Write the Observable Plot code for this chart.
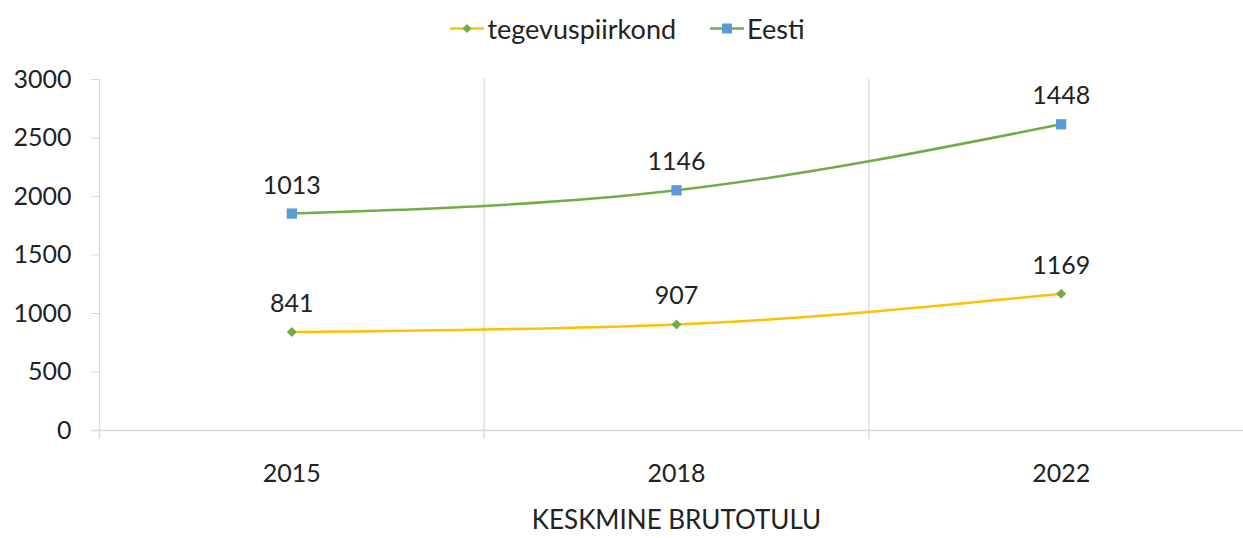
<!DOCTYPE html>
<html><head><meta charset="utf-8">
<script src="https://cdn.jsdelivr.net/npm/d3@7"></script>
<script src="https://cdn.jsdelivr.net/npm/@observablehq/plot@0.6"></script>
<style>
html,body{margin:0;padding:0;background:#fff;overflow:hidden;width:1243px;height:538px}
#legend{height:56px;display:flex;justify-content:center;align-items:center;font-family:"Lato","Open Sans",sans-serif;font-size:27px;color:#222;gap:34px;padding-left:12px;box-sizing:border-box}
.item{display:flex;align-items:center;gap:3px}
</style></head><body>
<div id="legend"></div>
<div id="chart"></div>
<script>
const years = ["2015", "2018", "2022"];
const seriesNames = ["tegevuspiirkond", "Eesti"];
const tegevuspiirkond = [841, 907, 1169];
const eesti = [1013, 1146, 1448];
const yTicks = [0, 500, 1000, 1500, 2000, 2500, 3000];
const gridBoundaries = [0.5, 1.5];

const lineColors = {"tegevuspiirkond": "#FFC000", "Eesti": "#70AD47"};
const markerColors = {"tegevuspiirkond": "#70AD47", "Eesti": "#5B9BD5"};

// stacked line chart: Eesti is drawn on top of tegevuspiirkond
const rows = [];
years.forEach((yr, i) => {
  rows.push({series: "tegevuspiirkond", i, year: yr, value: tegevuspiirkond[i], top: tegevuspiirkond[i]});
  rows.push({series: "Eesti", i, year: yr, value: eesti[i], top: tegevuspiirkond[i] + eesti[i]});
});
const rowsT = rows.filter(d => d.series === "tegevuspiirkond");
const rowsE = rows.filter(d => d.series === "Eesti");

// legend
const leg = document.getElementById("legend");
seriesNames.forEach(s => {
  const d = document.createElement("div");
  d.className = "item";
  const sym = s === "Eesti"
    ? `<rect x="12" y="4.5" width="10" height="10" fill="${markerColors[s]}"/>`
    : `<path d="M17,5 L21.5,9.5 L17,14 L12.5,9.5Z" fill="${markerColors[s]}"/>`;
  d.innerHTML = `<svg width="34" height="19"><line x1="0" x2="34" y1="9.5" y2="9.5" stroke="${lineColors[s]}" stroke-width="2.5"/>${sym}</svg><span>${s}</span>`;
  leg.appendChild(d);
});

const font = "Lato, 'Open Sans', sans-serif";
const chart = Plot.plot({
  width: 1253,
  height: 482,
  marginLeft: 99,
  marginRight: 0,
  marginTop: 23,
  marginBottom: 108,
  style: {fontFamily: font, background: "#fff", overflow: "visible", maxWidth: "none"},
  x: {type: "linear", domain: [-0.5, 2.5], axis: null},
  y: {domain: [0, 3000], axis: null},
  marks: [
    Plot.ruleX(gridBoundaries, {stroke: "#d9d9d9", strokeWidth: 1.3, insetBottom: -9}),
    Plot.ruleX([-0.5], {stroke: "#d9d9d9", strokeWidth: 1.3, insetBottom: -9}),
    Plot.ruleY([0], {stroke: "#d9d9d9", strokeWidth: 1.5, insetLeft: -8}),
    Plot.axisY({ticks: yTicks, tickSize: 8, stroke: "#d9d9d9", fill: "#222", fontSize: 25, tickPadding: 20, fontFamily: font, tickFormat: d => String(d), label: null}),
    Plot.axisX({ticks: [0, 1, 2], tickSize: 0, tickPadding: 34, tickFormat: i => years[i], fontSize: 25, fill: "#222", fontFamily: font, label: null, style: {letterSpacing: "1.5px"}}),
    Plot.text(["KESKMINE BRUTOTULU"], {frameAnchor: "bottom", dy: 98, fontSize: 26, fill: "#222", fontFamily: font}),
    Plot.line(rowsT, {x: "i", y: "top", stroke: lineColors["tegevuspiirkond"], strokeWidth: 2.5, curve: "monotone-x"}),
    Plot.line(rowsE, {x: "i", y: "top", stroke: lineColors["Eesti"], strokeWidth: 2.5, curve: "monotone-x"}),
    Plot.dot(rowsT, {x: "i", y: "top", symbol: "diamond2", fill: markerColors["tegevuspiirkond"], r: 4.5, stroke: "none"}),
    Plot.dot(rowsE, {x: "i", y: "top", symbol: "square", fill: markerColors["Eesti"], r: 5.8, stroke: "none"}),
    Plot.text(rows, {x: "i", y: "top", text: d => String(d.value), dy: -28, fontSize: 25, fill: "#222", fontFamily: font})
  ]
});
document.getElementById("chart").appendChild(chart);
</script>
</body></html>
